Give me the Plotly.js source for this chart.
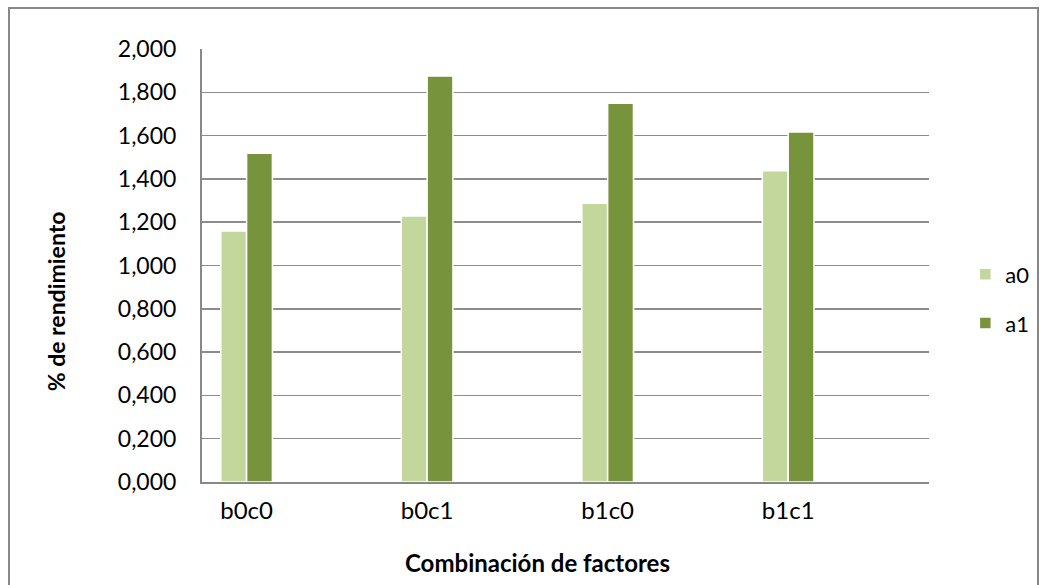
<!DOCTYPE html>
<html>
<head>
<meta charset="utf-8">
<script src="https://cdn.plot.ly/plotly-3.0.1.min.js"></script>
<style>
html,body{margin:0;padding:0;background:#fff;}
#wrap{position:relative;width:1046px;height:585px;overflow:hidden;}
#frame{position:absolute;left:8px;top:7px;width:1027px;height:600px;border:2px solid #888;pointer-events:none;z-index:2;}
#chart{position:absolute;left:0;top:0;width:1046px;height:585px;}
</style>
</head>
<body>
<div id="wrap"><div id="chart"></div><div id="frame"></div></div>
<script>
const categories = ["b0c0", "b0c1", "b1c0", "b1c1"];
const a0 = [1.159, 1.229, 1.287, 1.438];
const a1 = [1.518, 1.875, 1.749, 1.617];
const seriesNames = ["a0", "a1"];
const tickValues = [0, 0.2, 0.4, 0.6, 0.8, 1.0, 1.2, 1.4, 1.6, 1.8, 2.0];
const xTitle = "Combinación de factores";
const yTitle = "% de rendimiento";

const font = "Lato, 'Open Sans', 'DejaVu Sans', sans-serif";

const traces = [
  {type: "bar", name: seriesNames[0], x: categories, y: a0, legendgroup: "g0",
   marker: {color: "#C3D69B", line: {color: "#ffffff", width: 1.5}}, hoverinfo: "skip"},
  {type: "bar", name: seriesNames[1], x: categories, y: a1, legendgroup: "g1",
   marker: {color: "#77933C", line: {color: "#ffffff", width: 1.5}}, hoverinfo: "skip"}
];

const layout = {
  width: 1046, height: 585,
  margin: {l: 202, r: 111, t: 49, b: 103},
  paper_bgcolor: "rgba(0,0,0,0)",
  plot_bgcolor: "#ffffff",
  barmode: "group",
  bargap: 0.714,
  bargroupgap: 0,
  font: {family: font, color: "#000"},
  separators: ",.",
  xaxis: {
    type: "category",
    range: [-0.247, 3.78],
    showgrid: false,
    zeroline: false,
    showline: true, linecolor: "#888", linewidth: 2,
    ticks: "",
    ticklabelstandoff: 6,
    tickfont: {size: 24, family: font}
  },
  yaxis: {
    range: [0, 2.0],
    tickvals: tickValues,
    tickformat: ".3f",
    showgrid: true, gridcolor: "#8c8c8c", gridwidth: 1.5,
    zeroline: false,
    showline: true, linecolor: "#888", linewidth: 2,
    ticks: "",
    ticklabelstandoff: 19,
    tickfont: {size: 23, family: font}
  },
  annotations: [
    {text: "<b>" + xTitle + "</b>", xref: "paper", yref: "paper", x: 0.461, y: -0.187,
     xanchor: "center", yanchor: "middle", showarrow: false, font: {size: 24, family: font}},
    {text: "<b>" + yTitle + "</b>", xref: "paper", yref: "paper", x: -0.2005, y: 0.418,
     xanchor: "center", yanchor: "middle", textangle: -90, showarrow: false, font: {size: 23, family: font}}
  ],
  legend: {
    x: 1.05, xanchor: "left", y: 0.4226, yanchor: "middle",
    font: {size: 22, family: font},
    tracegroupgap: 17,
    bgcolor: "rgba(0,0,0,0)"
  },
  showlegend: true
};

Plotly.newPlot("chart", traces, layout, {staticPlot: true, displayModeBar: false});
</script>
</body>
</html>
